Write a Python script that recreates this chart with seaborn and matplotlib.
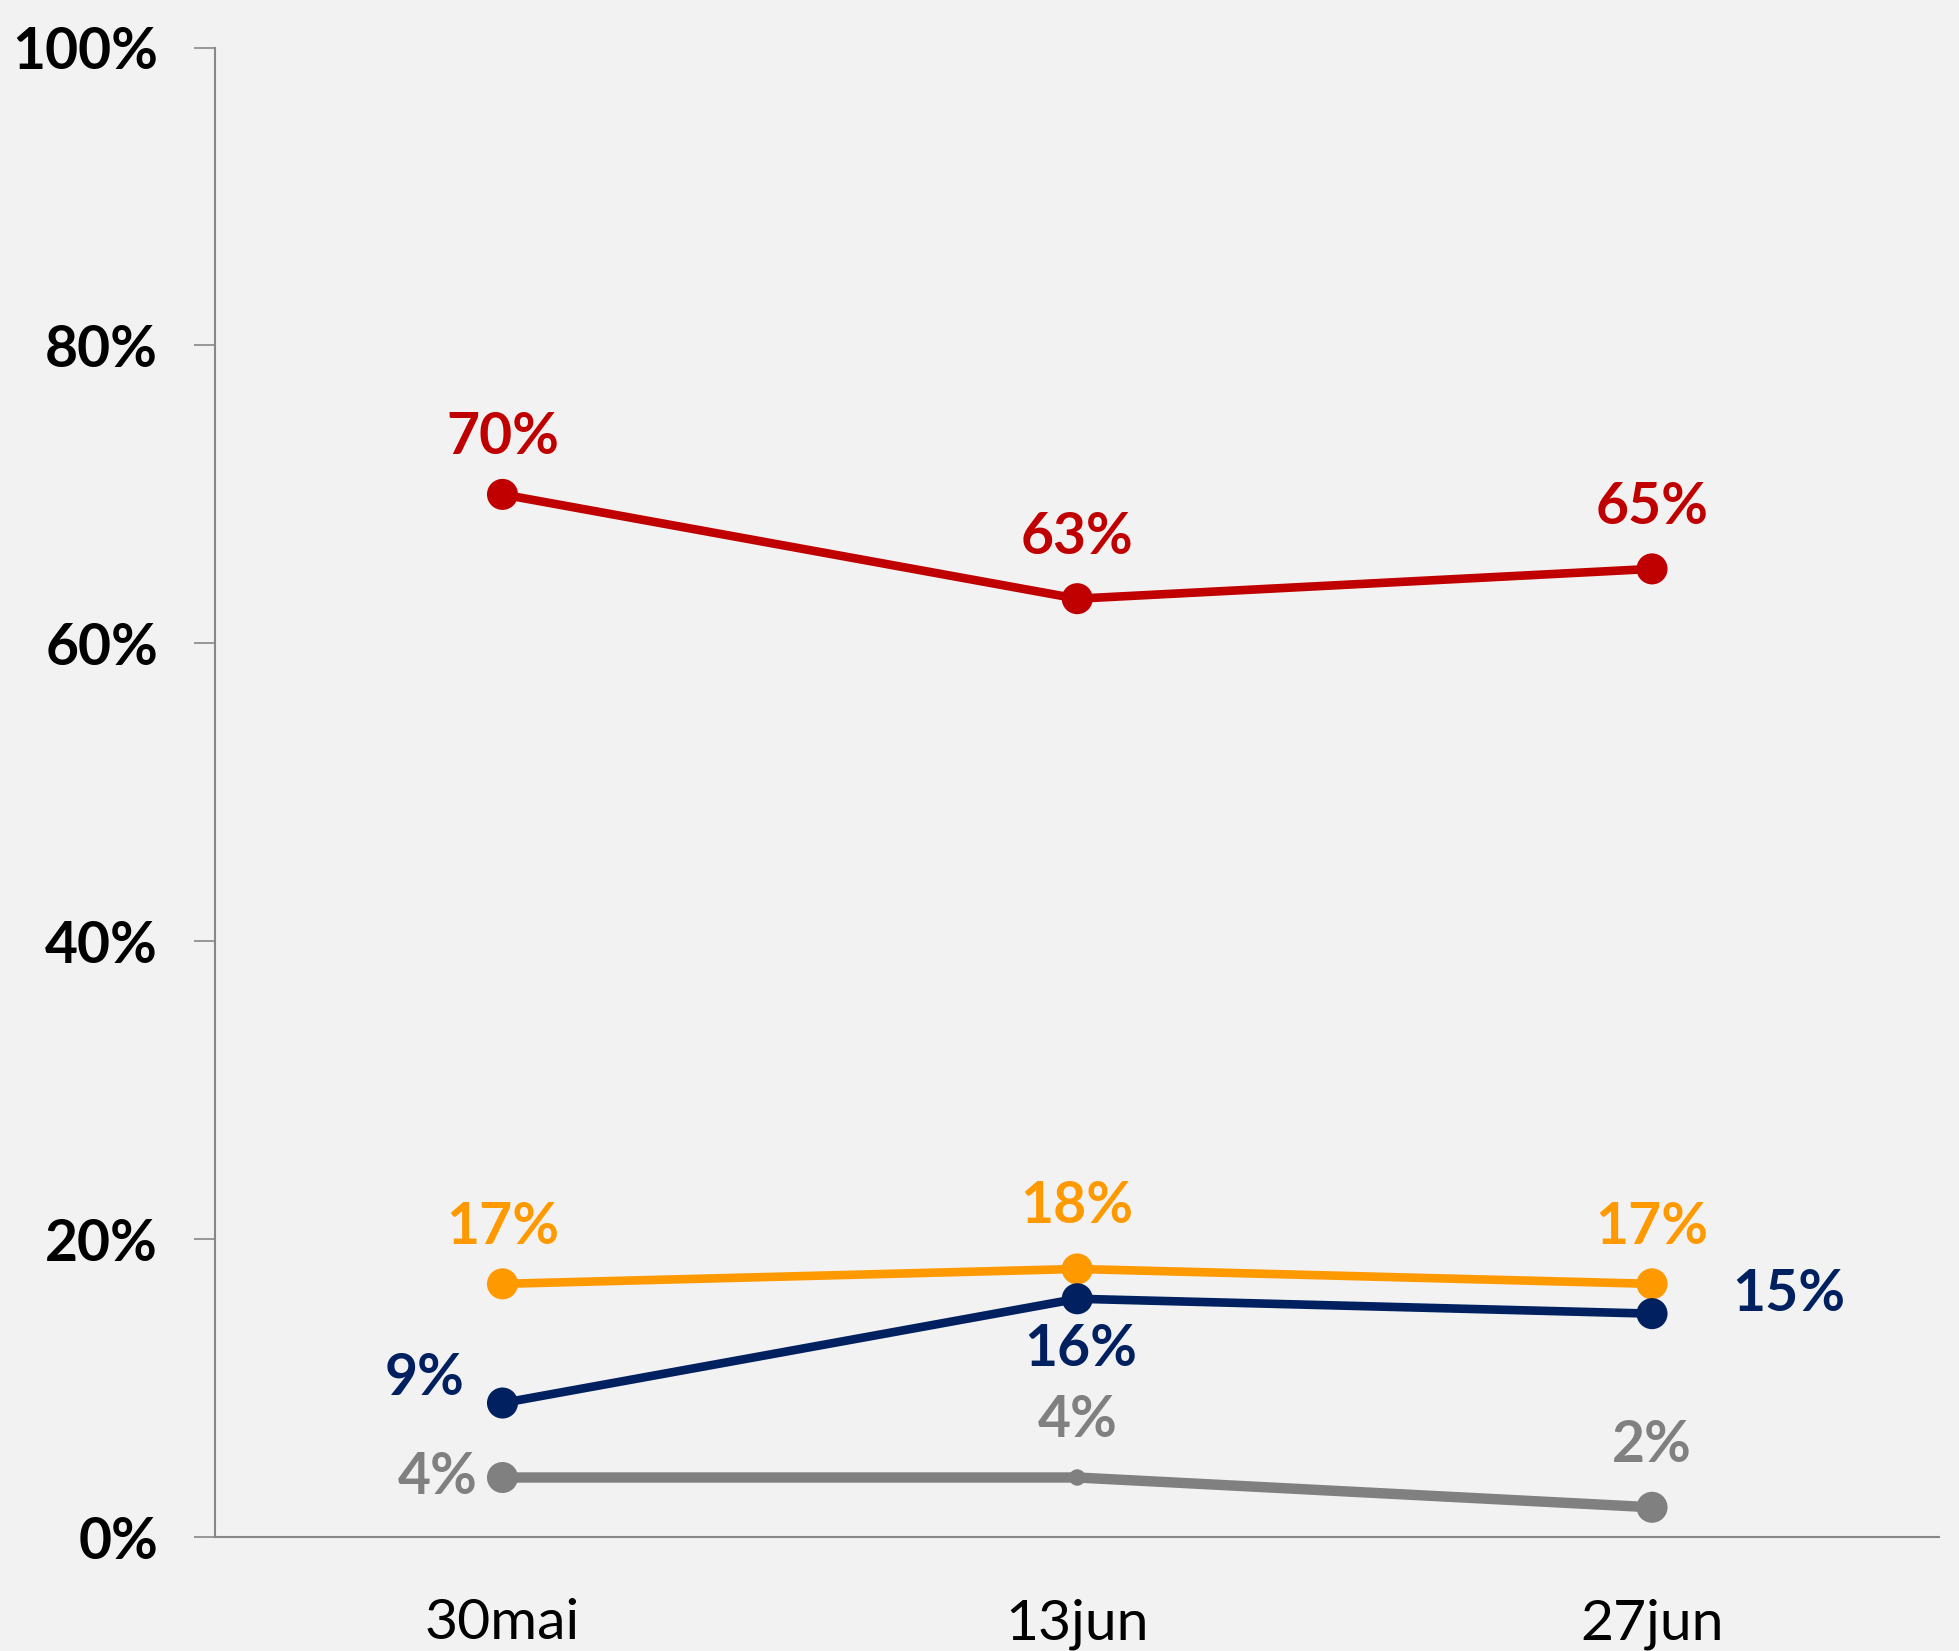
import seaborn as sns
import pandas as pd
import matplotlib
matplotlib.use("Agg")
from matplotlib import pyplot as plt
from matplotlib.ticker import FixedLocator

# 数据
dates = ["30mai", "13jun", "27jun"]
red_vals = [70, 63, 65]
orange_vals = [17, 18, 17]
navy_vals = [9, 16, 15]
gray_vals = [4, 4, 2]
y_ticks = [0, 20, 40, 60, 80, 100]

series = {"red": red_vals, "orange": orange_vals, "navy": navy_vals, "gray": gray_vals}
palette = {"red": "#C00000", "orange": "#FF9900", "navy": "#002060", "gray": "#808080"}

rows = []
for name, vals in series.items():
    for i, (d, v) in enumerate(zip(dates, vals)):
        mk = "small" if (name == "gray" and i == 1) else "big"
        rows.append({"date": d, "pos": i, "value": v, "serie": name, "mk": mk})
df = pd.DataFrame(rows)

# 标签偏移 (像素)
offsets = {
    "red": [(0, 57), (0, 61), (0, 61)],
    "orange": [(0, 56), (0, 62), (0, 56)],
    "navy": [(-78, 25), (3, -51), (137, 19)],
    "gray": [(-65, 0), (0, 57), (0, 62)],
}

"""         画图          """
sns.set_style("white")
plt.rcParams["font.family"] = ["Lato", "DejaVu Sans"]
FS = 41

fig = plt.figure(figsize=(19.59, 16.51), dpi=100)
fig.patch.set_facecolor("#F2F2F2")
ax = fig.add_axes([0.1098, 0.069, 0.8802, 0.9022])
ax.set_facecolor("#F2F2F2")

lw = {"red": 6.2, "orange": 6.2, "navy": 6.2, "gray": 7.5}
for name in series:
    sub = df[df["serie"] == name]
    sns.lineplot(data=sub, x="pos", y="value", color=palette[name],
                 linewidth=lw[name], ax=ax, legend=False, zorder=2)
sns.scatterplot(data=df, x="pos", y="value", hue="serie", palette=palette,
                size="mk", sizes={"big": 500, "small": 140}, linewidth=0,
                ax=ax, legend=False, zorder=3)

for name, vals in series.items():
    for i, v in enumerate(vals):
        dx, dy = offsets[name][i]
        ax.annotate(f"{v}%", (i, v), xytext=(dx, dy), textcoords="offset pixels",
                    ha="center", va="center", fontsize=FS, fontweight="bold",
                    color=palette[name])

ax.set_xlim(-0.5, 2.5)
ax.set_ylim(0, 100)
ax.set_xticks(range(len(dates)))
ax.set_xticklabels(dates, color="black")
ax.xaxis.set_minor_locator(FixedLocator([-0.5, 0.5, 1.5, 2.499]))
ax.tick_params(axis="x", which="major", length=0, pad=44, labelsize=FS)
ax.tick_params(axis="x", which="minor", length=15, width=1.2, color="#888888", direction="out")
ax.set_yticks(y_ticks)
ax.set_yticklabels([f"{t}%" for t in y_ticks], fontweight="bold", color="black")
ax.tick_params(axis="y", length=15, width=1.2, color="#888888", pad=26, labelsize=FS, left=True)
ax.set_xlabel("")
ax.set_ylabel("")

for s in ["top", "right"]:
    ax.spines[s].set_visible(False)
for s in ["left", "bottom"]:
    ax.spines[s].set_color("#888888")
    ax.spines[s].set_linewidth(1.5)

plt.savefig("out.png", dpi=100, facecolor=fig.get_facecolor())
